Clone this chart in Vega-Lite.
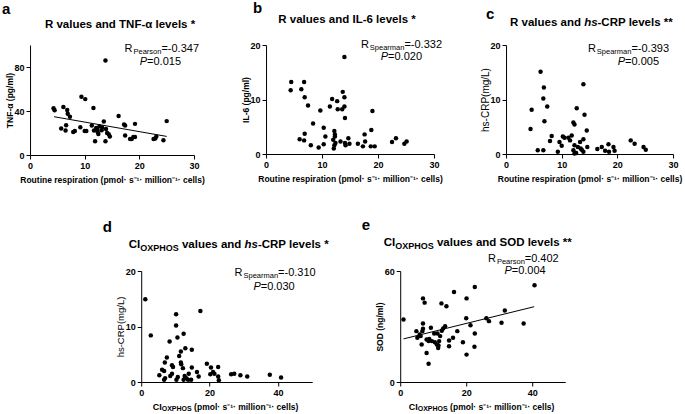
{
"$schema": "https://vega.github.io/schema/vega-lite/v6.json",
"padding": {"left": 2, "top": 1, "right": 2, "bottom": 2},
"background": "white",
"datasets": {
"one": [{}],
"a": [{"x":13.8,"y":86},{"x":9.4,"y":52.9},{"x":10.1,"y":50.8},{"x":11.6,"y":42.8},{"x":4.3,"y":42.5},{"x":4.5,"y":40.6},{"x":6.1,"y":43.7},{"x":6.8,"y":40.9},{"x":6.9,"y":37.5},{"x":7.3,"y":34.8},{"x":16.2,"y":35.4},{"x":13.5,"y":30.5},{"x":25.0,"y":30.8},{"x":19.2,"y":28.3},{"x":17.2,"y":27.7},{"x":17.4,"y":26.8},{"x":6.6,"y":27.1},{"x":5.7,"y":24},{"x":9.2,"y":25.2},{"x":11.3,"y":26.8},{"x":12.1,"y":24.6},{"x":12.7,"y":26.2},{"x":13.1,"y":22.5},{"x":13.9,"y":23.7},{"x":6.5,"y":22.2},{"x":7.9,"y":20.9},{"x":8.2,"y":21.8},{"x":10.0,"y":21.8},{"x":10.3,"y":21.8},{"x":11.7,"y":22.2},{"x":12.4,"y":20.6},{"x":12.5,"y":19.1},{"x":14.1,"y":20},{"x":14.4,"y":18.8},{"x":14.6,"y":16.9},{"x":17.4,"y":17.8},{"x":18.9,"y":16.3},{"x":19.2,"y":16.3},{"x":18.3,"y":14.5},{"x":18.6,"y":14.5},{"x":11.9,"y":12.6},{"x":13.8,"y":12.6},{"x":22.6,"y":14.5},{"x":22.9,"y":15.1},{"x":23.1,"y":16.9},{"x":24.4,"y":13.5},{"x":12.3,"y":23.5},{"x":13.2,"y":25.0}],
"la": [{"x":4.4,"y":34.8},{"x":25.0,"y":16.9}],
"b": [{"x":14.0,"y":17.8},{"x":4.5,"y":13.2},{"x":4.4,"y":11.7},{"x":6.8,"y":13.2},{"x":6.3,"y":11.9},{"x":6.9,"y":10.4},{"x":7.5,"y":8.9},{"x":13.7,"y":11.4},{"x":11.8,"y":10.1},{"x":12.7,"y":9.7},{"x":11.4,"y":8.7},{"x":14.0,"y":10.4},{"x":14.0,"y":8.7},{"x":13.6,"y":8.2},{"x":12.8,"y":8.2},{"x":14.1,"y":6.6},{"x":9.7,"y":8.0},{"x":19.0,"y":7.9},{"x":8.4,"y":5.6},{"x":10.3,"y":4.8},{"x":12.2,"y":4.2},{"x":18.8,"y":4.4},{"x":6.9,"y":3.7},{"x":10.6,"y":3.2},{"x":17.6,"y":3.6},{"x":12.3,"y":3.2},{"x":12.3,"y":3.6},{"x":6.0,"y":2.7},{"x":6.8,"y":2.5},{"x":8.0,"y":1.6},{"x":9.4,"y":1.2},{"x":10.3,"y":1.8},{"x":12.0,"y":2.6},{"x":12.4,"y":2.0},{"x":12.1,"y":1.0},{"x":13.3,"y":2.3},{"x":14.1,"y":2.0},{"x":14.7,"y":2.9},{"x":14.9,"y":1.9},{"x":16.4,"y":1.9},{"x":17.3,"y":1.4},{"x":17.7,"y":2.3},{"x":18.7,"y":1.4},{"x":19.4,"y":1.4},{"x":22.5,"y":2.2},{"x":23.2,"y":2.9},{"x":24.7,"y":1.9},{"x":25.1,"y":2.3},{"x":12.2,"y":1.6},{"x":14.2,"y":1.6}],
"c": [{"x":6.2,"y":15.1},{"x":13.9,"y":12.8},{"x":6.8,"y":12.2},{"x":6.7,"y":10.2},{"x":7.4,"y":8.7},{"x":4.6,"y":8.1},{"x":12.7,"y":8.4},{"x":14.1,"y":7.2},{"x":6.9,"y":6.0},{"x":12.1,"y":5.8},{"x":12.3,"y":5.4},{"x":4.4,"y":4.6},{"x":14.5,"y":4.3},{"x":11.8,"y":3.4},{"x":11.2,"y":3.0},{"x":8.2,"y":3.3},{"x":10.2,"y":3.2},{"x":10.5,"y":3.0},{"x":11.5,"y":2.5},{"x":7.9,"y":2.4},{"x":9.6,"y":2.2},{"x":13.3,"y":2.2},{"x":13.9,"y":2.7},{"x":22.4,"y":2.5},{"x":23.1,"y":1.9},{"x":10.0,"y":1.5},{"x":12.3,"y":1.6},{"x":12.9,"y":1.3},{"x":14.6,"y":1.3},{"x":16.4,"y":0.9},{"x":17.2,"y":1.3},{"x":18.4,"y":1.8},{"x":19.3,"y":1.3},{"x":17.8,"y":0.6},{"x":19.5,"y":0.6},{"x":5.7,"y":0.7},{"x":6.7,"y":0.7},{"x":9.3,"y":0.4},{"x":12.1,"y":0.7},{"x":12.3,"y":0.1},{"x":12.6,"y":0.2},{"x":13.6,"y":0.8},{"x":13.4,"y":1.0},{"x":13.9,"y":0.4},{"x":24.7,"y":1.3},{"x":25.1,"y":0.8},{"x":18.5,"y":0.4}],
"d": [{"x":1.2,"y":14.9},{"x":17.3,"y":12.8},{"x":10.2,"y":12.2},{"x":10.2,"y":10.2},{"x":2.8,"y":8.4},{"x":10.6,"y":8.0},{"x":12.4,"y":8.7},{"x":8.3,"y":7.3},{"x":12.9,"y":6.1},{"x":14.8,"y":5.8},{"x":11.6,"y":5.5},{"x":11.1,"y":4.7},{"x":7.5,"y":4.4},{"x":6.9,"y":3.5},{"x":11.6,"y":3.5},{"x":11.7,"y":3.2},{"x":9.0,"y":3.0},{"x":9.3,"y":2.7},{"x":19.2,"y":3.3},{"x":22.5,"y":2.7},{"x":20.4,"y":2.6},{"x":6.1,"y":2.2},{"x":6.7,"y":2.0},{"x":12.2,"y":2.5},{"x":14.8,"y":2.6},{"x":16.3,"y":1.8},{"x":13.9,"y":1.5},{"x":21.0,"y":1.8},{"x":21.4,"y":1.5},{"x":20.2,"y":1.4},{"x":5.3,"y":1.2},{"x":8.5,"y":1.1},{"x":9.0,"y":1.5},{"x":10.7,"y":0.9},{"x":12.7,"y":1.1},{"x":16.8,"y":1.0},{"x":22.5,"y":1.0},{"x":26.3,"y":1.4},{"x":27.2,"y":1.5},{"x":29.0,"y":1.2},{"x":31.0,"y":1.0},{"x":37.6,"y":1.3},{"x":40.9,"y":0.8},{"x":7.0,"y":0.7},{"x":6.7,"y":0.4},{"x":13.2,"y":0.7},{"x":13.7,"y":0.4},{"x":10.3,"y":0.4},{"x":14.6,"y":0.4},{"x":22.7,"y":0.3},{"x":12.4,"y":0.4}],
"e": [{"x":40.7,"y":52.3},{"x":22.6,"y":51.4},{"x":16.3,"y":48.6},{"x":6.9,"y":45.2},{"x":20.1,"y":45.2},{"x":7.4,"y":42.9},{"x":12.5,"y":42.5},{"x":14.0,"y":41.0},{"x":31.7,"y":38.7},{"x":1.0,"y":33.8},{"x":6.9,"y":31.6},{"x":26.1,"y":34.4},{"x":26.9,"y":32.9},{"x":30.7,"y":32.0},{"x":37.4,"y":31.6},{"x":20.0,"y":34.4},{"x":21.3,"y":30.7},{"x":13.6,"y":30.2},{"x":13.0,"y":28.9},{"x":12.6,"y":27.7},{"x":9.3,"y":29.3},{"x":6.9,"y":28.8},{"x":6.7,"y":27.5},{"x":17.3,"y":27.5},{"x":22.6,"y":26.2},{"x":10.3,"y":26.2},{"x":4.9,"y":27.5},{"x":5.9,"y":25.7},{"x":6.2,"y":24.8},{"x":5.2,"y":23.9},{"x":12.1,"y":24.8},{"x":11.8,"y":22.1},{"x":11.3,"y":26.2},{"x":8.8,"y":23.3},{"x":8.0,"y":23.0},{"x":9.6,"y":22.1},{"x":8.6,"y":22.1},{"x":16.0,"y":23.9},{"x":14.8,"y":22.4},{"x":19.0,"y":21.5},{"x":10.5,"y":21.5},{"x":11.1,"y":20.3},{"x":6.5,"y":20.3},{"x":11.6,"y":19.7},{"x":14.8,"y":19.3},{"x":22.5,"y":19.0},{"x":11.5,"y":18.4},{"x":8.0,"y":15.7},{"x":20.1,"y":14.8},{"x":8.6,"y":9.9}],
"le": [{"x":1.0,"y":23.3},{"x":40.6,"y":40.7}]
},
"vconcat": [
{"hconcat": [
{"width":164,"height":110,"layer":[
 {"data":{"name":"a"},"mark":{"type":"circle","size":20,"color":"black","opacity":1},
  "encoding":{"x":{"field":"x","type":"quantitative","scale":{"domain":[0,30],"nice":false},"axis":{"values":[0,10,20,30],"labelOverlap":false,"labelSeparation":0,"title":"Routine respiration (pmol·  s⁻¹· million⁻¹· cells)"}},
  "y":{"field":"y","type":"quantitative","scale":{"domain":[0,100],"nice":false},"axis":{"values":[0,20,40,60,80,100],"labelOverlap":false,"labelSeparation":0,"title":"TNF-α (pg/ml)"}}}},
 {"data":{"name":"la"},"mark":{"type":"line","color":"black","strokeWidth":1},"encoding":{"x":{"field":"x","type":"quantitative"},"y":{"field":"y","type":"quantitative"}}},
 {"data":{"name":"one"},"mark":{"type":"text","style":"letter","text":"a","dx":-28,"dy":-36},"encoding":{"x":{"datum":0},"y":{"datum":100}}},
 {"data":{"name":"one"},"mark":{"type":"text","style":"ttl","align":"center","text":"R values and TNF-α  levels *","dx":90,"dy":-20},"encoding":{"x":{"datum":0},"y":{"datum":100}}},
 {"data":{"name":"one"},"mark":{"type":"text","style":"ann","text":"=-0.347","dx":5,"dy":4},"encoding":{"x":{"datum":30},"y":{"datum":100}}},
 {"data":{"name":"one"},"mark":{"type":"text","style":"annsub","text":"Pearson","dx":-32.6,"dy":7},"encoding":{"x":{"datum":30},"y":{"datum":100}}},
 {"data":{"name":"one"},"mark":{"type":"text","style":"ann","text":"R","dx":-61.5,"dy":4},"encoding":{"x":{"datum":30},"y":{"datum":100}}},
 {"data":{"name":"one"},"mark":{"type":"text","style":"ann","text":"=0.015","dx":-13,"dy":17},"encoding":{"x":{"datum":30},"y":{"datum":100}}},
 {"data":{"name":"one"},"mark":{"type":"text","style":"annit","text":"P","dx":-46.9,"dy":17},"encoding":{"x":{"datum":30},"y":{"datum":100}}}
]},
{"width":168,"height":109,"layer":[
 {"data":{"name":"b"},"mark":{"type":"circle","size":20,"color":"black","opacity":1},
  "encoding":{"x":{"field":"x","type":"quantitative","scale":{"domain":[0,30],"nice":false},"axis":{"values":[0,10,20,30],"labelOverlap":false,"labelSeparation":0,"title":"Routine respiration (pmol·  s⁻¹· million⁻¹· cells)"}},
  "y":{"field":"y","type":"quantitative","scale":{"domain":[0,20],"nice":false},"axis":{"values":[0,5,10,15,20],"labelOverlap":false,"labelSeparation":0,"title":"IL-6 (pg/ml)"}}}},
 {"data":{"name":"one"},"mark":{"type":"text","style":"letter","text":"b","dx":-13,"dy":-37},"encoding":{"x":{"datum":0},"y":{"datum":20}}},
 {"data":{"name":"one"},"mark":{"type":"text","style":"ttl","align":"center","text":"R values and IL-6 levels *","dx":81,"dy":-25},"encoding":{"x":{"datum":0},"y":{"datum":20}}},
 {"data":{"name":"one"},"mark":{"type":"text","style":"ann","text":"=-0.332","dx":8,"dy":0},"encoding":{"x":{"datum":30},"y":{"datum":20}}},
 {"data":{"name":"one"},"mark":{"type":"text","style":"annsub","text":"Spearman","dx":-29.6,"dy":3},"encoding":{"x":{"datum":30},"y":{"datum":20}}},
 {"data":{"name":"one"},"mark":{"type":"text","style":"ann","text":"R","dx":-65.2,"dy":0},"encoding":{"x":{"datum":30},"y":{"datum":20}}},
 {"data":{"name":"one"},"mark":{"type":"text","style":"ann","text":"=0.020","dx":-12,"dy":12},"encoding":{"x":{"datum":30},"y":{"datum":20}}},
 {"data":{"name":"one"},"mark":{"type":"text","style":"annit","text":"P","dx":-45.9,"dy":12},"encoding":{"x":{"datum":30},"y":{"datum":20}}}
]},
{"width":167,"height":109,"layer":[
 {"data":{"name":"c"},"mark":{"type":"circle","size":20,"color":"black","opacity":1},
  "encoding":{"x":{"field":"x","type":"quantitative","scale":{"domain":[0,30],"nice":false},"axis":{"values":[0,10,20,30],"labelOverlap":false,"labelSeparation":0,"title":"Routine respiration (pmol·  s⁻¹· million⁻¹· cells)"}},
  "y":{"field":"y","type":"quantitative","scale":{"domain":[0,20],"nice":false},"axis":{"values":[0,5,10,15,20],"labelOverlap":false,"labelSeparation":0,"title":"hs-CRP(mg/L)","titleFontWeight":"normal","titleFontSize":10}}}},
 {"data":{"name":"one"},"mark":{"type":"text","style":"letter","text":"c","dx":-20,"dy":-31},"encoding":{"x":{"datum":0},"y":{"datum":20}}},
 {"data":{"name":"one"},"mark":{"type":"text","style":"ttl","text":"R values and","dx":4,"dy":-22},"encoding":{"x":{"datum":0},"y":{"datum":20}}},
 {"data":{"name":"one"},"mark":{"type":"text","style":"ttlit","text":"hs","dx":78.1,"dy":-22},"encoding":{"x":{"datum":0},"y":{"datum":20}}},
 {"data":{"name":"one"},"mark":{"type":"text","style":"ttl","text":"-CRP levels **","dx":91.5,"dy":-22},"encoding":{"x":{"datum":0},"y":{"datum":20}}},
 {"data":{"name":"one"},"mark":{"type":"text","style":"ann","text":"=-0.393","dx":-4,"dy":4},"encoding":{"x":{"datum":30},"y":{"datum":20}}},
 {"data":{"name":"one"},"mark":{"type":"text","style":"annsub","text":"Spearman","dx":-41.6,"dy":7},"encoding":{"x":{"datum":30},"y":{"datum":20}}},
 {"data":{"name":"one"},"mark":{"type":"text","style":"ann","text":"R","dx":-77.2,"dy":4},"encoding":{"x":{"datum":30},"y":{"datum":20}}},
 {"data":{"name":"one"},"mark":{"type":"text","style":"ann","text":"=0.005","dx":-14,"dy":17},"encoding":{"x":{"datum":30},"y":{"datum":20}}},
 {"data":{"name":"one"},"mark":{"type":"text","style":"annit","text":"P","dx":-47.9,"dy":17},"encoding":{"x":{"datum":30},"y":{"datum":20}}}
]}
], "spacing": 72, "bounds": "flush"},
{"hconcat": [
{"width":171,"height":111,"layer":[
 {"data":{"name":"d"},"mark":{"type":"circle","size":20,"color":"black","opacity":1},
  "encoding":{"x":{"field":"x","type":"quantitative","scale":{"domain":[0,50],"nice":false},"axis":{"values":[0,10,20,30,40,50],"labelOverlap":false,"labelSeparation":0,"title":null}},
  "y":{"field":"y","type":"quantitative","scale":{"domain":[0,20],"nice":false},"axis":{"values":[0,5,10,15,20],"labelOverlap":false,"labelSeparation":0,"title":"hs-CRP(mg/L)","titleFontWeight":"normal","titleFontSize":9.5}}}},
 {"data":{"name":"one"},"mark":{"type":"text","style":"letter","text":"d","dx":-38.5,"dy":-44},"encoding":{"x":{"datum":0},"y":{"datum":20}}},
 {"data":{"name":"one"},"mark":{"type":"text","style":"ttl","text":"CI","dx":-12.5,"dy":-26},"encoding":{"x":{"datum":0},"y":{"datum":20}}},
 {"data":{"name":"one"},"mark":{"type":"text","style":"ttlsub","text":"OXPHOS","dx":-1,"dy":-23},"encoding":{"x":{"datum":0},"y":{"datum":20}}},
 {"data":{"name":"one"},"mark":{"type":"text","style":"ttl","text":"values and","dx":40.7,"dy":-26},"encoding":{"x":{"datum":0},"y":{"datum":20}}},
 {"data":{"name":"one"},"mark":{"type":"text","style":"ttlit","text":"hs","dx":103.3,"dy":-26},"encoding":{"x":{"datum":0},"y":{"datum":20}}},
 {"data":{"name":"one"},"mark":{"type":"text","style":"ttl","text":"-CRP levels *","dx":116.7,"dy":-26},"encoding":{"x":{"datum":0},"y":{"datum":20}}},
 {"data":{"name":"one"},"mark":{"type":"text","style":"ann","text":"=-0.310","dx":3.5,"dy":2},"encoding":{"x":{"datum":50},"y":{"datum":20}}},
 {"data":{"name":"one"},"mark":{"type":"text","style":"annsub","text":"Spearman","dx":-34.1,"dy":5},"encoding":{"x":{"datum":50},"y":{"datum":20}}},
 {"data":{"name":"one"},"mark":{"type":"text","style":"ann","text":"R","dx":-69.7,"dy":2},"encoding":{"x":{"datum":50},"y":{"datum":20}}},
 {"data":{"name":"one"},"mark":{"type":"text","style":"ann","text":"=0.030","dx":-17.5,"dy":16},"encoding":{"x":{"datum":50},"y":{"datum":20}}},
 {"data":{"name":"one"},"mark":{"type":"text","style":"annit","text":"P","dx":-51.4,"dy":16},"encoding":{"x":{"datum":50},"y":{"datum":20}}},
 {"data":{"name":"one"},"mark":{"type":"text","style":"xtb","text":"CI","dx":11.5,"dy":25},"encoding":{"x":{"datum":0},"y":{"datum":0}}},
 {"data":{"name":"one"},"mark":{"type":"text","style":"xtsub","text":"OXPHOS","dx":20.5,"dy":27},"encoding":{"x":{"datum":0},"y":{"datum":0}}},
 {"data":{"name":"one"},"mark":{"type":"text","style":"xt","text":"(pmol·  s⁻¹· million⁻¹· cells)","dx":52.9,"dy":25},"encoding":{"x":{"datum":0},"y":{"datum":0}}}
]},
{"width":165,"height":111,"layer":[
 {"data":{"name":"e"},"mark":{"type":"circle","size":20,"color":"black","opacity":1},
  "encoding":{"x":{"field":"x","type":"quantitative","scale":{"domain":[0,50],"nice":false},"axis":{"values":[0,10,20,30,40,50],"labelOverlap":false,"labelSeparation":0,"title":null}},
  "y":{"field":"y","type":"quantitative","scale":{"domain":[0,60],"nice":false},"axis":{"values":[0,20,40,60],"labelOverlap":false,"labelSeparation":0,"title":"SOD (ng/ml)"}}}},
 {"data":{"name":"le"},"mark":{"type":"line","color":"black","strokeWidth":1},"encoding":{"x":{"field":"x","type":"quantitative"},"y":{"field":"y","type":"quantitative"}}},
 {"data":{"name":"one"},"mark":{"type":"text","style":"letter","text":"e","dx":-38.5,"dy":-46},"encoding":{"x":{"datum":0},"y":{"datum":60}}},
 {"data":{"name":"one"},"mark":{"type":"text","style":"ttl","text":"CI","dx":-16.5,"dy":-28},"encoding":{"x":{"datum":0},"y":{"datum":60}}},
 {"data":{"name":"one"},"mark":{"type":"text","style":"ttlsub","text":"OXPHOS","dx":-5,"dy":-25},"encoding":{"x":{"datum":0},"y":{"datum":60}}},
 {"data":{"name":"one"},"mark":{"type":"text","style":"ttl","text":"values and SOD levels **","dx":36.7,"dy":-28},"encoding":{"x":{"datum":0},"y":{"datum":60}}},
 {"data":{"name":"one"},"mark":{"type":"text","style":"ann","text":"=0.402","dx":-6.5,"dy":-12},"encoding":{"x":{"datum":50},"y":{"datum":60}}},
 {"data":{"name":"one"},"mark":{"type":"text","style":"annsub","text":"Pearson","dx":-40.4,"dy":-9},"encoding":{"x":{"datum":50},"y":{"datum":60}}},
 {"data":{"name":"one"},"mark":{"type":"text","style":"ann","text":"R","dx":-69.3,"dy":-12},"encoding":{"x":{"datum":50},"y":{"datum":60}}},
 {"data":{"name":"one"},"mark":{"type":"text","style":"ann","text":"=0.004","dx":-19.5,"dy":0},"encoding":{"x":{"datum":50},"y":{"datum":60}}},
 {"data":{"name":"one"},"mark":{"type":"text","style":"annit","text":"P","dx":-53.4,"dy":0},"encoding":{"x":{"datum":50},"y":{"datum":60}}},
 {"data":{"name":"one"},"mark":{"type":"text","style":"xtb","text":"CI","dx":8.5,"dy":25},"encoding":{"x":{"datum":0},"y":{"datum":0}}},
 {"data":{"name":"one"},"mark":{"type":"text","style":"xtsub","text":"OXPHOS","dx":17.5,"dy":27},"encoding":{"x":{"datum":0},"y":{"datum":0}}},
 {"data":{"name":"one"},"mark":{"type":"text","style":"xt","text":"(pmol·  s⁻¹· million⁻¹· cells)","dx":49.9,"dy":25},"encoding":{"x":{"datum":0},"y":{"datum":0}}}
]}
], "spacing": 88, "bounds": "flush"}
],
"spacing": 34,
"center": true,
"config": {
 "view": {"stroke": null},
 "font": "Liberation Sans",
 "axis": {"grid": false, "labelOverlap": false, "labelSeparation": 0, "labelBound": false, "labelFlush": false, "domainColor": "black", "domainWidth": 1, "tickColor": "black", "tickSize": 4, "tickWidth": 1, "labelColor": "black", "labelFont": "Liberation Sans", "labelFontWeight": "bold", "labelFontSize": 9, "labelPadding": 2, "titleColor": "black", "titleFont": "Liberation Sans", "titleFontWeight": "bold", "titleFontSize": 8.5},
 "axisX": {"titlePadding": 5},
 "axisY": {"titlePadding": 0},
 "style": {
  "letter": {"font": "Liberation Sans", "fontWeight": "bold", "fontSize": 15, "align": "left", "baseline": "middle", "color": "black"},
  "ttl": {"font": "Liberation Sans", "fontWeight": "bold", "fontSize": 11.5, "align": "left", "baseline": "middle", "color": "black"},
  "ttlit": {"font": "Liberation Sans", "fontWeight": "bold", "fontStyle": "italic", "fontSize": 11.5, "align": "left", "baseline": "middle", "color": "black"},
  "ttlsub": {"font": "Liberation Sans", "fontWeight": "bold", "fontSize": 9, "align": "left", "baseline": "middle", "color": "black"},
  "ann": {"font": "Liberation Sans", "fontWeight": "normal", "fontSize": 11, "align": "right", "baseline": "middle", "color": "black"},
  "annsub": {"font": "Liberation Sans", "fontWeight": "normal", "fontSize": 7.5, "align": "right", "baseline": "middle", "color": "black"},
  "annit": {"font": "Liberation Sans", "fontWeight": "normal", "fontStyle": "italic", "fontSize": 11, "align": "right", "baseline": "middle", "color": "black"},
  "xt": {"font": "Liberation Sans", "fontWeight": "bold", "fontSize": 8.5, "align": "left", "baseline": "middle", "color": "black"},
  "xtb": {"font": "Liberation Sans", "fontWeight": "bold", "fontSize": 9, "align": "left", "baseline": "middle", "color": "black"},
  "xtsub": {"font": "Liberation Sans", "fontWeight": "bold", "fontSize": 7, "align": "left", "baseline": "middle", "color": "black"}
 }
}
}
